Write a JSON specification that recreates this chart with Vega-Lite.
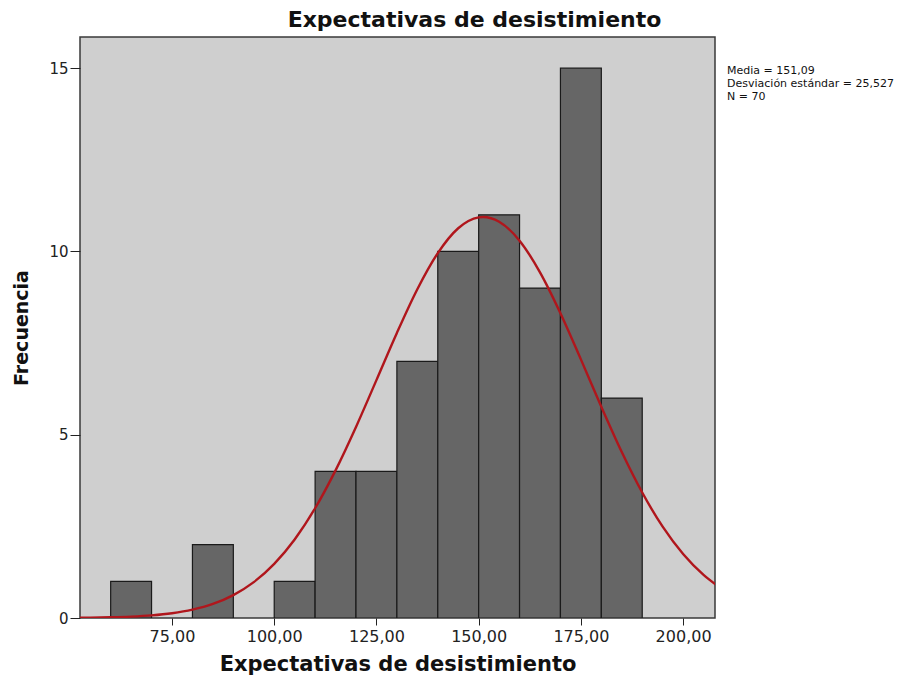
{
  "$schema": "https://vega.github.io/schema/vega-lite/v6.json",
  "width": 635,
  "height": 581,
  "autosize": {"type": "none"},
  "padding": {"left": 80, "top": 37, "right": 208, "bottom": 64},
  "background": "white",
  "config": {
    "font": "DejaVu Sans",
    "view": {"fill": "#cfcfcf", "stroke": "#3a3a3a", "strokeWidth": 1.5}
  },
  "view": {"fill": "#cfcfcf", "stroke": "#3a3a3a", "strokeWidth": 1.5},
  "title": {
    "text": "Expectativas de desistimiento",
    "fontSize": 22,
    "fontWeight": "bold",
    "font": "DejaVu Sans",
    "color": "#111",
    "offset": 5,
    "dx": 77
  },
  "datasets": {
    "bins": [
      {"bin_start": 60, "bin_end": 70, "count": 1},
      {"bin_start": 80, "bin_end": 90, "count": 2},
      {"bin_start": 100, "bin_end": 110, "count": 1},
      {"bin_start": 110, "bin_end": 120, "count": 4},
      {"bin_start": 120, "bin_end": 130, "count": 4},
      {"bin_start": 130, "bin_end": 140, "count": 7},
      {"bin_start": 140, "bin_end": 150, "count": 10},
      {"bin_start": 150, "bin_end": 160, "count": 11},
      {"bin_start": 160, "bin_end": 170, "count": 9},
      {"bin_start": 170, "bin_end": 180, "count": 15},
      {"bin_start": 180, "bin_end": 190, "count": 6}
    ],
    "curve": [
      {"x": 52, "y": 0.0058}, {"x": 55, "y": 0.0092}, {"x": 60, "y": 0.0188},
      {"x": 65, "y": 0.0371}, {"x": 70, "y": 0.0703}, {"x": 75, "y": 0.1287},
      {"x": 80, "y": 0.2265}, {"x": 85, "y": 0.383}, {"x": 90, "y": 0.625},
      {"x": 95, "y": 0.978}, {"x": 100, "y": 1.478}, {"x": 105, "y": 2.143},
      {"x": 110, "y": 2.994}, {"x": 115, "y": 4.027}, {"x": 120, "y": 5.212},
      {"x": 125, "y": 6.489}, {"x": 130, "y": 7.776}, {"x": 135, "y": 8.969},
      {"x": 140, "y": 9.954}, {"x": 145, "y": 10.633}, {"x": 150, "y": 10.93},
      {"x": 151.09, "y": 10.94}, {"x": 155, "y": 10.812}, {"x": 160, "y": 10.294},
      {"x": 165, "y": 9.43}, {"x": 170, "y": 8.315}, {"x": 175, "y": 7.055},
      {"x": 180, "y": 5.761}, {"x": 185, "y": 4.527}, {"x": 190, "y": 3.423},
      {"x": 195, "y": 2.491}, {"x": 200, "y": 1.745}, {"x": 205, "y": 1.176},
      {"x": 208, "y": 0.911}
    ],
    "stats": [
      {"stat": "Media = 151,09"},
      {"stat": "Desviación estándar = 25,527"},
      {"stat": "N = 70"}
    ]
  },
  "layer": [
    {
      "data": {"name": "bins"},
      "mark": {"type": "bar", "fill": "#666666", "stroke": "#1a1a1a", "strokeWidth": 1.2, "clip": true},
      "encoding": {
        "x": {
          "field": "bin_start", "type": "quantitative",
          "scale": {"domain": [52.5, 207.8], "nice": false, "zero": false},
          "axis": {
            "title": "Expectativas de desistimiento",
            "titleFontSize": 21, "titleFontWeight": "bold", "titleColor": "#111",
            "titlePadding": 9,
            "values": [75, 100, 125, 150, 175, 200],
            "labelExpr": "replace(format(datum.value, '.2f'), '.', ',')",
            "labelFontSize": 16, "labelColor": "#222", "labelPadding": 3,
            "tickSize": 7, "tickColor": "#222", "domain": false, "grid": false
          }
        },
        "x2": {"field": "bin_end"},
        "y": {
          "field": "count", "type": "quantitative",
          "scale": {"domain": [0, 15.85], "nice": false},
          "axis": {
            "title": "Frecuencia",
            "titleFontSize": 19, "titleFontWeight": "bold", "titleColor": "#111",
            "titlePadding": 17,
            "values": [0, 5, 10, 15],
            "labelFontSize": 15, "labelColor": "#222", "labelPadding": 2,
            "tickSize": 10, "tickColor": "#222", "domain": false, "grid": false
          }
        },
        "y2": {"datum": 0}
      }
    },
    {
      "data": {"name": "curve"},
      "mark": {"type": "line", "color": "#b0161c", "strokeWidth": 2.4, "interpolate": "monotone", "clip": true},
      "encoding": {
        "x": {"field": "x", "type": "quantitative"},
        "y": {"field": "y", "type": "quantitative"}
      }
    },
    {
      "data": {"name": "stats"},
      "mark": {"type": "point", "opacity": 0},
      "encoding": {
        "color": {
          "field": "stat", "type": "nominal",
          "scale": {"domain": ["Media = 151,09", "Desviación estándar = 25,527", "N = 70"], "range": ["#000", "#000", "#000"]},
          "legend": {
            "title": null,
            "orient": "none",
            "legendX": 636,
            "legendY": 28,
            "symbolOpacity": 0,
            "symbolSize": 1,
            "symbolStrokeWidth": 0,
            "labelOffset": 0,
            "labelFontSize": 11,
            "labelColor": "#111",
            "labelLimit": 300,
            "rowPadding": 1,
            "padding": 0
          }
        }
      }
    }
  ]
}
